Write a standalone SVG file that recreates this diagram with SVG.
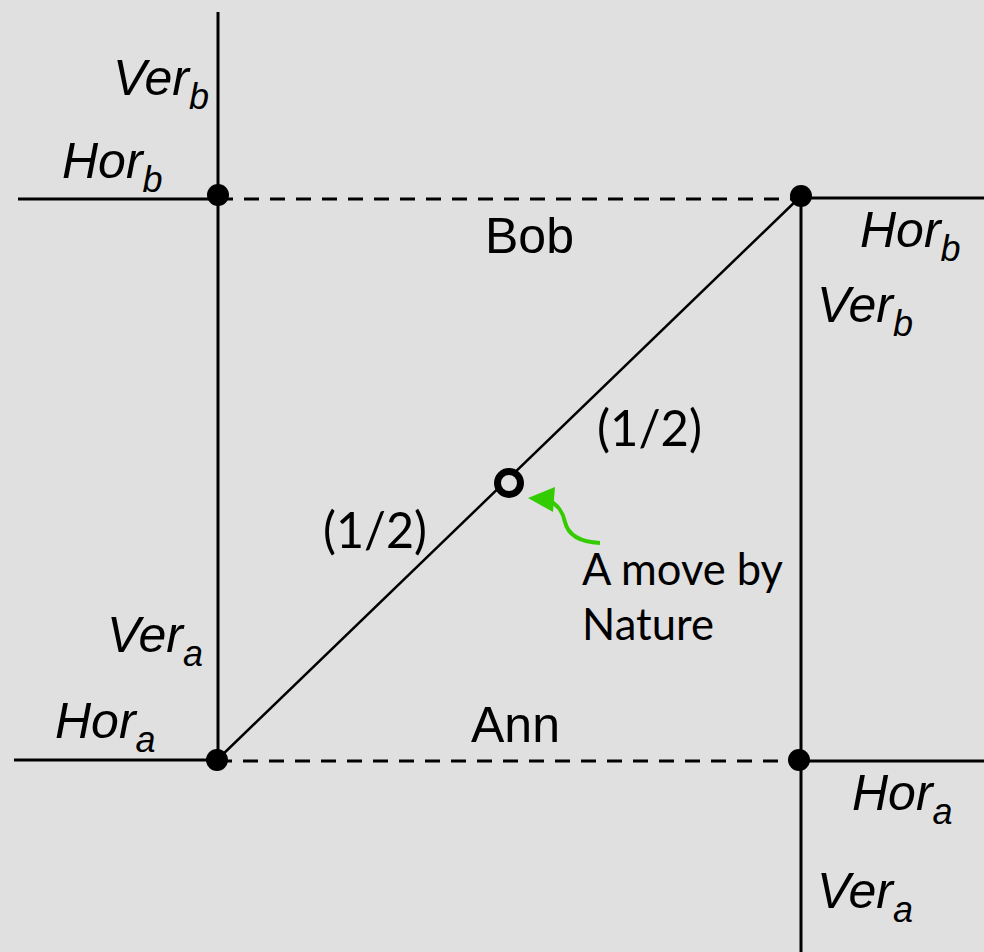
<svg xmlns="http://www.w3.org/2000/svg" width="984" height="952" viewBox="0 0 984 952">
<style>
.ln{stroke:#000;stroke-width:3;fill:none}
.dash{stroke:#000;stroke-width:3;fill:none;stroke-dasharray:15 11}
.diag{stroke:#000;stroke-width:2.5;fill:none}
.lbl{font-family:"Liberation Sans",Arial,sans-serif;font-style:italic;font-size:50px;fill:#000}
.sub{font-size:36px}
.name{font-family:"Liberation Sans",Arial,sans-serif;font-size:50px;fill:#000}
.cal{font-family:Lato,"Open Sans",sans-serif;font-size:45px;fill:#000}
.half{font-size:50px}
</style>
<rect width="984" height="952" fill="#E0E0E0"/>
<g id="connectors">
<line class="ln" x1="218" y1="12" x2="218" y2="760"/>
<line class="ln" x1="18" y1="199" x2="218" y2="199"/>
<line class="dash" x1="218" y1="199" x2="801" y2="199"/>
<line class="ln" x1="801" y1="198" x2="984" y2="198"/>
<line class="ln" x1="801" y1="196" x2="801" y2="952"/>
<line class="ln" x1="14" y1="760" x2="217" y2="760"/>
<line class="dash" x1="217" y1="761" x2="799" y2="761"/>
<line class="ln" x1="799" y1="761" x2="984" y2="761"/>
<line class="diag" x1="217" y1="760" x2="801" y2="196"/>
</g>
<g id="node-bob-left"><circle cx="218" cy="195" r="11" fill="#000"/></g>
<g id="node-bob-right"><circle cx="801" cy="196" r="11" fill="#000"/></g>
<g id="node-ann-left"><circle cx="217" cy="760" r="11" fill="#000"/></g>
<g id="node-ann-right"><circle cx="799" cy="760" r="11" fill="#000"/></g>
<g id="node-nature"><circle cx="509" cy="483" r="11.5" fill="#E0E0E0" stroke="#000" stroke-width="7"/></g>
<g id="nature-arrow">
<path d="M600 543 C580 542 568 535 565 522 C563 512 559 507 552 502" fill="none" stroke="#33CC00" stroke-width="4"/>
<polygon points="528,498 555,487 553,512" fill="#33CC00"/>
</g>
<g id="labels">
<text class="lbl" x="113" y="95">Ver<tspan class="sub" dy="14">b</tspan></text>
<text class="lbl" x="62" y="178">Hor<tspan class="sub" dy="14">b</tspan></text>
<text class="lbl" x="860" y="247">Hor<tspan class="sub" dy="14">b</tspan></text>
<text class="lbl" x="817" y="322">Ver<tspan class="sub" dy="14">b</tspan></text>
<text class="lbl" x="107" y="652">Ver<tspan class="sub" dy="14">a</tspan></text>
<text class="lbl" x="55" y="738">Hor<tspan class="sub" dy="14">a</tspan></text>
<text class="lbl" x="852" y="810">Hor<tspan class="sub" dy="14">a</tspan></text>
<text class="lbl" x="817" y="908">Ver<tspan class="sub" dy="14">a</tspan></text>
<text class="name" x="485" y="253">Bob</text>
<text class="name" x="471" y="742">Ann</text>
<text class="cal half" x="597" y="446" textLength="105" lengthAdjust="spacingAndGlyphs">(1/2)</text>
<text class="cal half" x="323" y="548" textLength="104" lengthAdjust="spacingAndGlyphs">(1/2)</text>
<text class="cal" x="582" y="585" textLength="201" lengthAdjust="spacingAndGlyphs">A move by</text>
<text class="cal" x="582" y="640" textLength="132" lengthAdjust="spacingAndGlyphs">Nature</text>
</g>
</svg>
